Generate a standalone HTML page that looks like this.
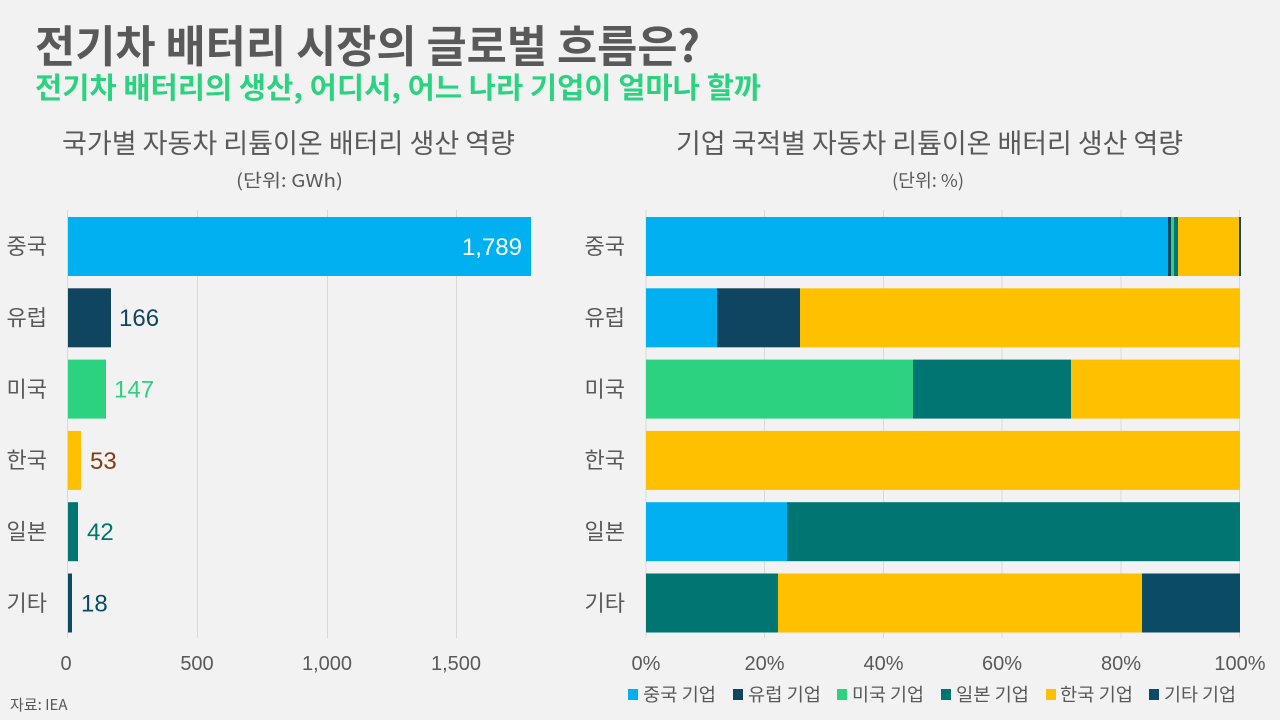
<!DOCTYPE html>
<html>
<head>
<meta charset="utf-8">
<style>
html,body{margin:0;padding:0;background:#f2f2f2;}
svg{display:block;}
.k{font-family:"Liberation Sans","Noto Sans CJK KR",sans-serif;}
</style>
</head>
<body>
<svg width="1280" height="720" viewBox="0 0 1280 720" xmlns="http://www.w3.org/2000/svg" class="k">
<rect x="0" y="0" width="1280" height="720" fill="#f2f2f2"/>

<!-- Titles -->
<text x="35" y="62" font-size="44" font-weight="bold" fill="#595959" textLength="665" lengthAdjust="spacingAndGlyphs" font-family="Noto Sans CJK KR, sans-serif">전기차 배터리 시장의 글로벌 흐름은?</text>
<text x="35" y="98" font-size="29" font-weight="bold" fill="#2bd27f" textLength="726" lengthAdjust="spacingAndGlyphs" font-family="Noto Sans CJK KR, sans-serif">전기차 배터리의 생산, 어디서, 어느 나라 기업이 얼마나 할까</text>

<!-- Chart headings -->
<text x="62" y="153" font-size="27" fill="#595959" textLength="453" lengthAdjust="spacingAndGlyphs" font-family="Noto Sans CJK KR, sans-serif">국가별 자동차 리튬이온 배터리 생산 역량</text>
<text x="236" y="187" font-size="18" fill="#595959" textLength="107" lengthAdjust="spacingAndGlyphs" font-family="Noto Sans CJK KR, sans-serif">(단위: GWh)</text>
<text x="676" y="153" font-size="27" fill="#595959" textLength="507" lengthAdjust="spacingAndGlyphs" font-family="Noto Sans CJK KR, sans-serif">기업 국적별 자동차 리튬이온 배터리 생산 역량</text>
<text x="892" y="187" font-size="18" fill="#595959" textLength="72" lengthAdjust="spacingAndGlyphs" font-family="Noto Sans CJK KR, sans-serif">(단위: %)</text>

<!-- Left chart gridlines -->
<g stroke="#d9d9d9" stroke-width="1">
<line x1="67.5" y1="210" x2="67.5" y2="638"/>
<line x1="197.5" y1="210" x2="197.5" y2="638"/>
<line x1="327.5" y1="210" x2="327.5" y2="638"/>
<line x1="456.5" y1="210" x2="456.5" y2="638"/>
</g>

<!-- Left bars -->
<rect x="68" y="217" width="463" height="59" fill="#00b0f0"/>
<rect x="68" y="288.3" width="43" height="59" fill="#10455f"/>
<rect x="68" y="359.6" width="38" height="59" fill="#2bd27f"/>
<rect x="68" y="430.9" width="13" height="59" fill="#ffc000"/>
<rect x="68" y="502.2" width="10" height="59" fill="#007672"/>
<rect x="68" y="573.5" width="4" height="59" fill="#0b4b66"/>

<!-- Left value labels -->
<g font-size="24" font-family="Liberation Sans, sans-serif">
<text x="522" y="255" text-anchor="end" fill="#ffffff">1,789</text>
<text x="119" y="326" fill="#10455f">166</text>
<text x="114" y="397.5" fill="#2bd27f">147</text>
<text x="90" y="469" fill="#843c0c">53</text>
<text x="87" y="540" fill="#007672">42</text>
<text x="81" y="611.5" fill="#0b4b66">18</text>
</g>

<!-- Left category labels -->
<g font-size="22" fill="#595959" text-anchor="end" font-family="Noto Sans CJK KR, sans-serif">
<text x="47" y="254">중국</text>
<text x="47" y="325.5">유럽</text>
<text x="47" y="397">미국</text>
<text x="47" y="468">한국</text>
<text x="47" y="539.5">일본</text>
<text x="47" y="611">기타</text>
</g>

<!-- Left tick labels -->
<g font-size="20" fill="#595959" text-anchor="middle" font-family="Liberation Sans, sans-serif">
<text x="66" y="670">0</text>
<text x="197" y="670">500</text>
<text x="327" y="670">1,000</text>
<text x="456" y="670">1,500</text>
</g>

<!-- Right chart gridlines -->
<g stroke="#d9d9d9" stroke-width="1">
<line x1="646" y1="210" x2="646" y2="638"/>
<line x1="764.5" y1="210" x2="764.5" y2="638"/>
<line x1="883.5" y1="210" x2="883.5" y2="638"/>
<line x1="1002" y1="210" x2="1002" y2="638"/>
<line x1="1121" y1="210" x2="1121" y2="638"/>
<line x1="1239.5" y1="210" x2="1239.5" y2="638"/>
</g>

<!-- Right bars -->
<!-- China -->
<rect x="646" y="217" width="522" height="59" fill="#00b0f0"/>
<rect x="1168" y="217" width="3" height="59" fill="#10455f"/>
<rect x="1171" y="217" width="3" height="59" fill="#2bd27f"/>
<rect x="1174" y="217" width="4" height="59" fill="#007672"/>
<rect x="1178" y="217" width="61" height="59" fill="#ffc000"/>
<rect x="1239" y="217" width="2" height="59" fill="#0b4b66"/>
<!-- Europe -->
<rect x="646" y="288.3" width="71" height="59" fill="#00b0f0"/>
<rect x="717" y="288.3" width="83" height="59" fill="#10455f"/>
<rect x="800" y="288.3" width="440" height="59" fill="#ffc000"/>
<!-- US -->
<rect x="646" y="359.6" width="267" height="59" fill="#2bd27f"/>
<rect x="913" y="359.6" width="158" height="59" fill="#007672"/>
<rect x="1071" y="359.6" width="169" height="59" fill="#ffc000"/>
<!-- Korea -->
<rect x="646" y="430.9" width="594" height="59" fill="#ffc000"/>
<!-- Japan -->
<rect x="646" y="502.2" width="141" height="59" fill="#00b0f0"/>
<rect x="787" y="502.2" width="453" height="59" fill="#007672"/>
<!-- Other -->
<rect x="646" y="573.5" width="132" height="59" fill="#007672"/>
<rect x="778" y="573.5" width="364" height="59" fill="#ffc000"/>
<rect x="1142" y="573.5" width="98" height="59" fill="#0b4b66"/>

<!-- Right category labels -->
<g font-size="22" fill="#595959" text-anchor="end" font-family="Noto Sans CJK KR, sans-serif">
<text x="625" y="254">중국</text>
<text x="625" y="325.5">유럽</text>
<text x="625" y="397">미국</text>
<text x="625" y="468">한국</text>
<text x="625" y="539.5">일본</text>
<text x="625" y="611">기타</text>
</g>

<!-- Right tick labels -->
<g font-size="20" fill="#595959" text-anchor="middle" font-family="Liberation Sans, sans-serif">
<text x="646" y="670">0%</text>
<text x="764.5" y="670">20%</text>
<text x="883.5" y="670">40%</text>
<text x="1002" y="670">60%</text>
<text x="1121" y="670">80%</text>
<text x="1240" y="670">100%</text>
</g>

<!-- Legend -->
<g font-size="18" fill="#595959" font-family="Noto Sans CJK KR, sans-serif">
<rect x="628" y="689" width="10" height="11" fill="#00b0f0"/>
<text x="643" y="701" textLength="73" lengthAdjust="spacingAndGlyphs">중국 기업</text>
<rect x="733" y="689" width="10" height="11" fill="#10455f"/>
<text x="748" y="701" textLength="73" lengthAdjust="spacingAndGlyphs">유럽 기업</text>
<rect x="837" y="689" width="10" height="11" fill="#2bd27f"/>
<text x="852" y="701" textLength="72" lengthAdjust="spacingAndGlyphs">미국 기업</text>
<rect x="941" y="689" width="10" height="11" fill="#007672"/>
<text x="956" y="701" textLength="73" lengthAdjust="spacingAndGlyphs">일본 기업</text>
<rect x="1046" y="689" width="10" height="11" fill="#ffc000"/>
<text x="1060" y="701" textLength="73" lengthAdjust="spacingAndGlyphs">한국 기업</text>
<rect x="1149" y="689" width="10" height="11" fill="#0b4b66"/>
<text x="1164" y="701" textLength="72" lengthAdjust="spacingAndGlyphs">기타 기업</text>
</g>

<!-- Source -->
<text x="10" y="710" font-size="15" fill="#595959" font-family="Noto Sans CJK KR, sans-serif">자료: IEA</text>
</svg>
</body>
</html>
